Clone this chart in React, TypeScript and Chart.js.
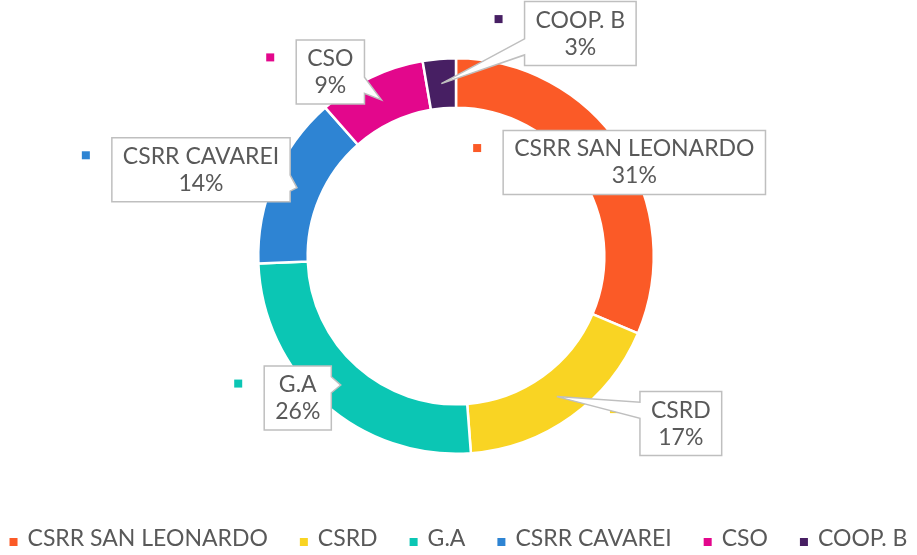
import React, { useEffect, useRef } from "react";
import { Chart, registerables } from "chart.js";

Chart.register(...registerables);

const categories = ["CSRR SAN LEONARDO", "CSRD", "G.A", "CSRR CAVAREI", "CSO", "COOP. B"];
const shares = [31.4, 17.4, 25.6, 14.1, 8.8, 2.7];
const sliceColors = ["#FB5A27", "#F9D423", "#0BC6B4", "#2E84D3", "#E3078C", "#471F63"];

const FONT = "Lato, 'Open Sans', sans-serif";
const TEXT_COLOR = "#595959";
const FONT_SIZE = 23;

// callout box centre offsets from each slice's centroid (px)
const calloutOffsets: [number, number][] = [
  [34, 2],
  [124, 27],
  [-43, 13],
  [-96, -18],
  [-51, -28],
  [139, -50],
];

const calloutPlugin = {
  id: "callouts",
  afterDatasetsDraw(chart: any) {
    const ctx: CanvasRenderingContext2D = chart.ctx;
    const meta = chart.getDatasetMeta(0);
    const data: number[] = chart.data.datasets[0].data;
    const labels: string[] = chart.data.labels;
    const bg: string[] = chart.data.datasets[0].backgroundColor;
    const total = data.reduce((a, b) => a + b, 0);
    ctx.save();
    ctx.font = `${FONT_SIZE}px ${FONT}`;
    const boxes: any[] = [];
    meta.data.forEach((arc: any, i: number) => {
      const p = arc.getProps(["x", "y", "startAngle", "endAngle", "innerRadius", "outerRadius"], true);
      const mid = (p.startAngle + p.endAngle) / 2;
      const r = (p.innerRadius + p.outerRadius) / 2;
      const tx = p.x + Math.cos(mid) * r;
      const ty = p.y + Math.sin(mid) * r;
      const l1 = labels[i];
      const l2 = Math.round((data[i] / total) * 100) + "%";
      const w = Math.max(ctx.measureText(l1).width, ctx.measureText(l2).width) + 22;
      const h = 64;
      const cx = tx + calloutOffsets[i][0];
      const cy = ty + calloutOffsets[i][1];
      boxes.push({ tx, ty, cx, cy, w, h, l1, l2, color: bg[i] });
    });
    // legend keys
    boxes.forEach((b) => {
      const L = b.cx - b.w / 2;
      ctx.fillStyle = b.color;
      ctx.fillRect(L - 30, b.cy - 13.5 - 5, 8, 8);
    });
    // shapes
    boxes.forEach((b) => {
      const { tx, ty, cx, cy, w, h } = b;
      const L = cx - w / 2, T = cy - h / 2, R = L + w, B = T + h;
      const dx = tx - cx, dy = ty - cy;
      const inside = tx >= L && tx <= R && ty >= T && ty <= B;
      ctx.beginPath();
      if (inside) {
        ctx.rect(L, T, w, h);
      } else if (Math.abs(dx) * h > Math.abs(dy) * w) {
        const yb1 = dy < 0 ? T + (h * 2) / 12 : T + (h * 7) / 12;
        const yb2 = dy < 0 ? T + (h * 5) / 12 : T + (h * 10) / 12;
        if (dx > 0) {
          ctx.moveTo(L, T);
          ctx.lineTo(R, T);
          ctx.lineTo(R, yb1);
          ctx.lineTo(tx, ty);
          ctx.lineTo(R, yb2);
          ctx.lineTo(R, B);
          ctx.lineTo(L, B);
          ctx.closePath();
        } else {
          ctx.moveTo(L, T);
          ctx.lineTo(R, T);
          ctx.lineTo(R, B);
          ctx.lineTo(L, B);
          ctx.lineTo(L, yb2);
          ctx.lineTo(tx, ty);
          ctx.lineTo(L, yb1);
          ctx.closePath();
        }
      } else {
        const xb1 = dx < 0 ? L + (w * 2) / 12 : L + (w * 7) / 12;
        const xb2 = dx < 0 ? L + (w * 5) / 12 : L + (w * 10) / 12;
        if (dy > 0) {
          ctx.moveTo(L, T);
          ctx.lineTo(R, T);
          ctx.lineTo(R, B);
          ctx.lineTo(xb2, B);
          ctx.lineTo(tx, ty);
          ctx.lineTo(xb1, B);
          ctx.lineTo(L, B);
          ctx.closePath();
        } else {
          ctx.moveTo(L, T);
          ctx.lineTo(xb1, T);
          ctx.lineTo(tx, ty);
          ctx.lineTo(xb2, T);
          ctx.lineTo(R, T);
          ctx.lineTo(R, B);
          ctx.lineTo(L, B);
          ctx.closePath();
        }
      }
      ctx.fillStyle = "#FFFFFF";
      ctx.fill();
      ctx.strokeStyle = "#BFBFBF";
      ctx.lineWidth = 1.5;
      ctx.lineJoin = "miter";
      ctx.stroke();
      ctx.fillStyle = TEXT_COLOR;
      ctx.textAlign = "center";
      ctx.textBaseline = "middle";
      ctx.fillText(b.l1, cx, cy - 13.5);
      ctx.fillText(b.l2, cx, cy + 13.5);
    });
    ctx.restore();
  },
};

const bottomLegendPlugin = {
  id: "bottomLegend",
  afterDraw(chart: any) {
    const ctx: CanvasRenderingContext2D = chart.ctx;
    const labels: string[] = chart.data.labels;
    const bg: string[] = chart.data.datasets[0].backgroundColor;
    ctx.save();
    ctx.font = `${FONT_SIZE}px ${FONT}`;
    const gap = 32;
    const widths = labels.map((l) => 8 + 10 + ctx.measureText(l).width);
    const total = widths.reduce((a, b) => a + b, 0) + gap * (labels.length - 1);
    let x = (chart.width - total) / 2;
    const y = 539;
    labels.forEach((l, i) => {
      ctx.fillStyle = bg[i];
      ctx.fillRect(x, y - 1, 8, 8);
      ctx.fillStyle = TEXT_COLOR;
      ctx.textAlign = "left";
      ctx.textBaseline = "middle";
      ctx.fillText(l, x + 18, y);
      x += widths[i] + gap;
    });
    ctx.restore();
  },
};

export default function App() {
  const ref = useRef<HTMLCanvasElement | null>(null);
  useEffect(() => {
    if (!ref.current) return;
    const chart = new Chart(ref.current, {
      type: "doughnut",
      data: {
        labels: categories,
        datasets: [
          {
            data: shares,
            backgroundColor: sliceColors,
            borderColor: "#FFFFFF",
            borderWidth: 2.5,
          },
        ],
      },
      options: {
        responsive: false,
        animation: false,
        cutout: "75%",
        layout: { padding: { top: 57, bottom: 100, left: 0, right: 5 } },
        plugins: {
          legend: { display: false },
          tooltip: { enabled: false },
        },
      },
      plugins: [calloutPlugin, bottomLegendPlugin],
    } as any);
    return () => chart.destroy();
  }, []);
  return (
    <div style={{ position: "absolute", left: 0, top: 0, width: 917, height: 555, background: "#fff" }}>
      <canvas ref={ref} width={917} height={555} style={{ display: "block", width: 917, height: 555 }} />
    </div>
  );
}
